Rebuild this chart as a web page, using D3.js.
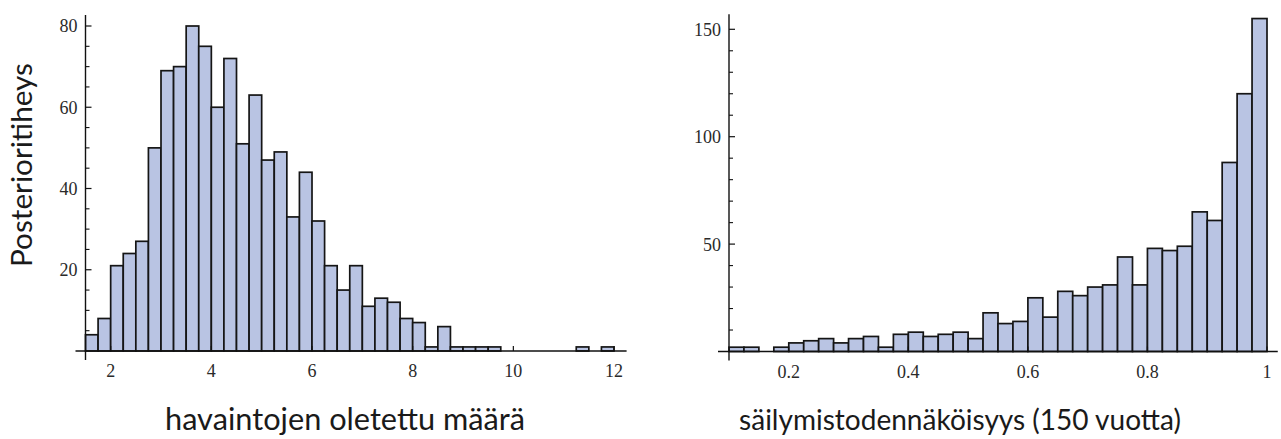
<!DOCTYPE html>
<html>
<head>
<meta charset="utf-8">
<script src="https://cdn.jsdelivr.net/npm/d3@7"></script>
<style>
html,body{margin:0;padding:0;background:#fff;}
svg{display:block;}
</style>
</head>
<body>
<svg id="chart" width="1281" height="439"></svg>
<script>
// ---- Data ----
const leftBinStarts = [1.5,1.75,2,2.25,2.5,2.75,3,3.25,3.5,3.75,4,4.25,4.5,4.75,5,5.25,5.5,5.75,6,6.25,6.5,6.75,7,7.25,7.5,7.75,8,8.25,8.5,8.75,9,9.25,9.5,9.75,10,10.25,10.5,10.75,11,11.25,11.5,11.75];
const leftCounts    = [4,8,21,24,27,50,69,70,80,75,60,72,51,63,47,49,33,44,32,21,15,21,11,13,12,8,7,1,6,1,1,1,1,0,0,0,0,0,0,1,0,1];
const leftBinWidth = 0.25;
const leftXTicks = [2,4,6,8,10,12];
const leftYTicks = [20,40,60,80];
const leftYMinor = [5,10,15,25,30,35,45,50,55,65,70,75];

const rightBinStarts = [0.1,0.125,0.15,0.175,0.2,0.225,0.25,0.275,0.3,0.325,0.35,0.375,0.4,0.425,0.45,0.475,0.5,0.525,0.55,0.575,0.6,0.625,0.65,0.675,0.7,0.725,0.75,0.775,0.8,0.825,0.85,0.875,0.9,0.925,0.95,0.975];
const rightCounts    = [2,2,0,2,4,5,6,4,6,7,2,8,9,7,8,9,6,18,13,14,25,16,28,26,30,31,44,31,48,47,49,65,61,88,120,155];
const rightBinWidth = 0.025;
const rightXTicks = [0.2,0.4,0.6,0.8,1];
const rightXTickLabels = ["0.2","0.4","0.6","0.8","1"];
const rightYTicks = [50,100,150];
const rightYMinor = [10,20,30,40,60,70,80,90,110,120,130,140];

const yTitle = "Posterioritiheys";
const leftXTitle = "havaintojen oletettu määrä";
const rightXTitle = "säilymistodennäköisyys (150 vuotta)";

// ---- Drawing ----
const svg = d3.select("#chart");
const barFill = "#b9c4e3";
const barStroke = "#151515";
const tickFont = "'Liberation Serif', 'Times New Roman', serif";
const titleFont = "Lato, 'Open Sans', sans-serif";

function panel(cfg) {
  const g = svg.append("g");
  const x = d3.scaleLinear().domain(cfg.xDomain).range(cfg.xRange);
  const y = d3.scaleLinear().domain(cfg.yDomain).range(cfg.yRange);

  const data = cfg.starts.map((s, i) => ({s, c: cfg.counts[i]})).filter(d => d.c > 0);
  g.selectAll("rect.bar").data(data).enter().append("rect")
    .attr("class", "bar")
    .attr("x", d => x(d.s))
    .attr("y", d => y(d.c))
    .attr("width", d => x(d.s + cfg.binWidth) - x(d.s))
    .attr("height", d => y(0) - y(d.c))
    .attr("fill", barFill)
    .attr("stroke", barStroke)
    .attr("stroke-width", 1.7);

  const x0 = x(cfg.xDomain[0]);
  const y0 = y(0);

  g.append("line")
    .attr("x1", x0 - cfg.xAxisLeftExt).attr("x2", x(cfg.xAxisEnd))
    .attr("y1", y0).attr("y2", y0)
    .attr("stroke", "#111").attr("stroke-width", 1.4);
  g.append("line")
    .attr("x1", x0).attr("x2", x0)
    .attr("y1", y(cfg.yAxisEnd)).attr("y2", y0 + 9)
    .attr("stroke", "#111").attr("stroke-width", 1.4);

  g.selectAll("line.ymaj").data(cfg.yTicks).enter().append("line")
    .attr("x1", x0).attr("x2", x0 + 6)
    .attr("y1", d => y(d)).attr("y2", d => y(d))
    .attr("stroke", "#111").attr("stroke-width", 1.2);
  g.selectAll("line.ymin").data(cfg.yMinor).enter().append("line")
    .attr("x1", x0).attr("x2", x0 + 4)
    .attr("y1", d => y(d)).attr("y2", d => y(d))
    .attr("stroke", "#111").attr("stroke-width", 1.1);
  g.selectAll("text.ylab").data(cfg.yTicks).enter().append("text")
    .attr("x", x0 - 8).attr("y", d => y(d))
    .attr("dy", "0.36em")
    .attr("text-anchor", "end")
    .attr("font-family", tickFont).attr("font-size", 18)
    .attr("fill", "#2a2a2a")
    .text(d => d);

  g.selectAll("line.xmaj").data(cfg.xTicks).enter().append("line")
    .attr("x1", d => x(d)).attr("x2", d => x(d))
    .attr("y1", y0).attr("y2", y0 - 5)
    .attr("stroke", "#111").attr("stroke-width", 1.2);
  g.selectAll("text.xlab").data(cfg.xTicks).enter().append("text")
    .attr("x", d => x(d)).attr("y", y0 + 26)
    .attr("text-anchor", "middle")
    .attr("font-family", tickFont).attr("font-size", 18)
    .attr("fill", "#2a2a2a")
    .text((d, i) => cfg.xTickLabels ? cfg.xTickLabels[i] : d);

  const t = g.append("text")
    .attr("x", cfg.titleCx).attr("y", 430)
    .attr("text-anchor", "middle")
    .attr("font-family", titleFont).attr("font-size", 100)
    .attr("fill", "#1a1a1a")
    .text(cfg.title);
  const w = t.node().getComputedTextLength();
  t.attr("font-size", 100 * cfg.titleWidth / w);
}

panel({
  xDomain: [1.5, 12.25], xRange: [85.5, 626.6], xAxisEnd: 12.25, xAxisLeftExt: 10,
  yDomain: [0, 80], yRange: [351, 26], yAxisEnd: 82.7,
  starts: leftBinStarts, counts: leftCounts, binWidth: leftBinWidth,
  xTicks: leftXTicks, yTicks: leftYTicks, yMinor: leftYMinor,
  title: leftXTitle, titleCx: 345, titleWidth: 360
});

panel({
  xDomain: [0.1, 1.0], xRange: [729, 1267], xAxisEnd: 1.018, xAxisLeftExt: 11,
  yDomain: [0, 150], yRange: [351.5, 29.3], yAxisEnd: 157,
  starts: rightBinStarts, counts: rightCounts, binWidth: rightBinWidth,
  xTicks: rightXTicks, xTickLabels: rightXTickLabels, yTicks: rightYTicks, yMinor: rightYMinor,
  title: rightXTitle, titleCx: 960, titleWidth: 442
});

const yt = svg.append("text")
  .attr("transform", "translate(32,165) rotate(-90)")
  .attr("text-anchor", "middle")
  .attr("font-family", titleFont).attr("font-size", 100)
  .attr("fill", "#1a1a1a")
  .text(yTitle);
const yw = yt.node().getComputedTextLength();
yt.attr("font-size", 100 * 204 / yw);
</script>
</body>
</html>
